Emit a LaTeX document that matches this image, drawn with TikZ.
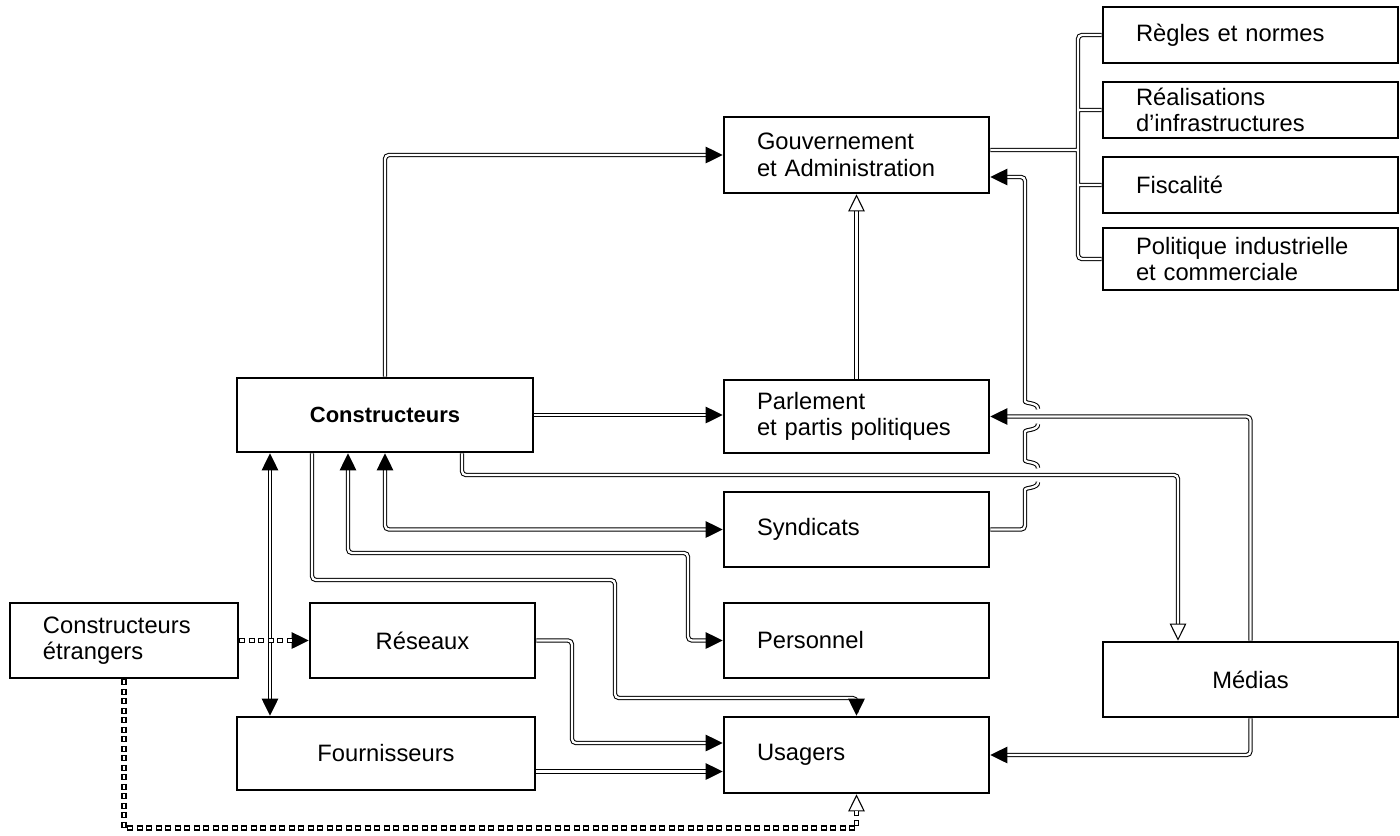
\documentclass[tikz,border=0pt]{standalone}
\usepackage{fontspec}
\setmainfont{Liberation Sans}
\usetikzlibrary{arrows.meta}

\begin{document}
\begin{tikzpicture}[x=0.2mm,y=-0.2mm,
    >={Triangle[length=3.4mm,width=3.3mm,line width=0.6pt]},
    hollow/.style={-{Triangle[open,length=3.4mm,width=3.3mm,line width=0.6pt]}},
    box/.style={draw,line width=1.5pt,fill=white,minimum height=15mm,inner xsep=6.6mm,inner ysep=0.5mm,font=\fontsize{13.5}{15}\selectfont},
    lbox/.style={box,align=left,text width=#1},
    cbox/.style={box,align=center,minimum width=#1},
    link/.style={double,line width=0.6pt,double distance=1.3pt,rounded corners=0.8mm},
    chain/.style={line width=3pt,dash pattern=on 1.2mm off 0.7mm,
      postaction={draw=white,-,shorten >=3.4mm,line width=1.5pt,dash pattern=on 0.85mm off 1.05mm,dash phase=1.725mm}}]
  \useasboundingbox (0,0) rectangle (1400,835);
  % boites
  \node[lbox=39.8mm,minimum height=15.2mm] (gouv) at (856.5,155) {Gouvernement\\et Administration};
  \node[lbox=45.8mm,minimum height=11.2mm] (regles) at (1250.5,35) {Règles et normes};
  \node[lbox=45.8mm,minimum height=11.2mm] (real) at (1250.5,110) {Réalisations\\d’infrastructures};
  \node[lbox=45.8mm,minimum height=11.2mm] (fisc) at (1250.5,185) {Fiscalité};
  \node[lbox=45.8mm,minimum height=12.4mm] (poli) at (1250.5,259) {Politique industrielle\\et commerciale};
  \node[cbox=59.2mm,minimum height=14.8mm,font=\fontsize{12.5}{15}\selectfont\bfseries] (constr) at (385,415) {Constructeurs};
  \node[lbox=39.8mm,minimum height=14.6mm] (parl) at (856.5,416.5) {Parlement\\et partis politiques};
  \node[lbox=39.8mm] (synd) at (856.5,529.5) {Syndicats};
  \node[lbox=39.8mm] (pers) at (856.5,640.5) {Personnel};
  \node[lbox=39.8mm,minimum height=15.2mm] (usag) at (856.5,755) {Usagers};
  \node[cbox=59mm] (medias) at (1250.5,679.5) {Médias};
  \node[lbox=32.4mm] (etr) at (124,640.5) {Constructeurs\\étrangers};
  \node[cbox=45mm] (reseaux) at (422.5,640.5) {Réseaux};
  \node[cbox=59.6mm,minimum height=14.6mm] (fourn) at (386,753.5) {Fournisseurs};
  % liaisons
  \draw[link,->] (constr.north) |- (gouv.west);
  \draw[link,->] (constr.east) -- (constr.east -| parl.west);
  \draw[link,hollow] (parl.north) -- (gouv.south);
  \draw[link] ([yshift=1mm]gouv.east) -- (1078,150)
    (regles.west) -| (1078,259) -- (poli.west)
    (real.west) -- (1078,110) (fisc.west) -- (1078,185);
  \draw[link,->] (medias.north) |- (parl.east);
  \draw[link,->] (synd.east) -| (1025,494) .. controls (1025,487) and (1038,489) .. (1038,482)
    (1038,468) .. controls (1038,461) and (1025,463) .. (1025,456) -- (1025,436)
    .. controls (1025,429) and (1038,431) .. (1038,424)
    (1038,409) .. controls (1038,402) and (1025,404) .. (1025,397) -- (1025,177)
    -- ([yshift=-4.4mm]gouv.east);
  \draw[link,hollow] ([xshift=15.4mm]constr.south) |- (1178,475) -- ([xshift=-14.5mm]medias.north);
  \draw[link,<->] (constr.south) |- (synd.west);
  \draw[link,<->] ([xshift=-7.4mm]constr.south) |- (688,553) |- (pers.west);
  \draw[link,->] ([xshift=-14.6mm]constr.south) |- (615,580) |- (856.5,698) -- (usag.north);
  \draw[link,<->] ([xshift=-23mm]constr.south) -- ([xshift=-23mm]constr.south |- fourn.north);
  \draw[link,->] (reseaux.east) -| (572,743) -- ([yshift=2.4mm]usag.west);
  \draw[link,->] ([yshift=-3.6mm]fourn.east) -- ([yshift=-3.6mm]fourn.east -| usag.west);
  \draw[link,->] (medias.south) |- (usag.east);
  % constructeurs etrangers
  \draw[chain,->] (etr.east) -- (reseaux.west);
  \draw[chain,hollow] (etr.south) |- (856.5,828) -- (usag.south);
\end{tikzpicture}
\end{document}
